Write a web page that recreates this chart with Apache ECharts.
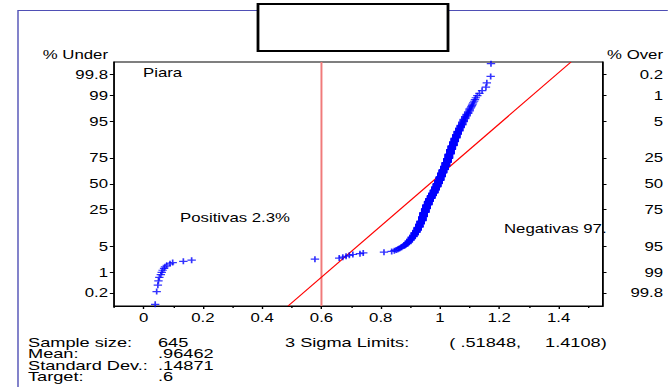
<!DOCTYPE html>
<html><head><meta charset="utf-8">
<script src="https://cdn.jsdelivr.net/npm/echarts/dist/echarts.min.js"></script>
<style>
html,body{margin:0;padding:0;background:#fff;}
#wrap{width:668px;height:387px;overflow:hidden;background:#fff;position:relative;}
#chart{position:absolute;left:0;top:0;height:387px;transform:scaleX(1.4);transform-origin:0 0;}
</style>
</head><body>
<div id="wrap"><div id="chart"></div></div>
<script>
// ---------------- data ----------------
const sampleSize = 645;
const meanValue = 0.96462;
const stdDev = 0.14871;
const targetValue = 0.6;
const sigmaLimits = [0.51848, 1.4108];

// individual low-end observations (ranks 1..29)
const lowTail = [0.039, 0.044, 0.048, 0.050, 0.053, 0.058, 0.061, 0.064, 0.069, 0.072,
  0.078, 0.089, 0.098, 0.134, 0.162, 0.578, 0.660, 0.672, 0.683, 0.694,
  0.706, 0.730, 0.741, 0.811, 0.837, 0.846, 0.852, 0.857, 0.861];
// dense central band: value and how many observations read at that value
const bandValues = [0.865, 0.870, 0.875, 0.880, 0.885, 0.890, 0.895, 0.900, 0.905, 0.910,
  0.915, 0.920, 0.925, 0.930, 0.935, 0.940, 0.945, 0.950, 0.955, 0.960,
  0.965, 0.970, 0.975, 0.980, 0.985, 0.990, 0.995, 1.000, 1.005, 1.010,
  1.015, 1.020, 1.025, 1.030, 1.035, 1.040, 1.045, 1.050, 1.055, 1.060,
  1.065, 1.070, 1.075, 1.080, 1.085, 1.090, 1.095, 1.100];
const bandCounts = [1, 2, 1, 2, 2, 3, 4, 4, 5, 5,
  7, 7, 10, 12, 13, 18, 21, 20, 22, 21,
  18, 18, 17, 20, 21, 22, 21, 25, 25, 21,
  22, 22, 22, 23, 22, 16, 15, 13, 11, 9,
  8, 6, 6, 5, 4, 3, 3, 3];
// individual high-end observations (ranks 631..645)
const highTail = [1.104, 1.106, 1.108, 1.110, 1.112, 1.115, 1.118, 1.121, 1.126, 1.133,
  1.142, 1.155, 1.158, 1.171, 1.172];

const pctUnderTicks = [0.2, 1, 5, 25, 50, 75, 95, 99, 99.8];
const pctUnderLabels = ['0.2', '1', '5', '25', '50', '75', '95', '99', '99.8'];
const pctOverLabels = ['99.8', '99', '95', '75', '50', '25', '5', '1', '0.2'];
const xTickValues = [0, 0.2, 0.4, 0.6, 0.8, 1, 1.2, 1.4];
const xTickLabels = ['0', '0.2', '0.4', '0.6', '0.8', '1', '1.2', '1.4'];
const xMinorTicks = [-0.1, 0.1, 0.3, 0.5, 0.7, 0.9, 1.1, 1.3, 1.5];

const statLabels = ['Sample size:', 'Mean:', 'Standard Dev.:', 'Target:'];
const statValues = ['645', '.96462', '.14871', '.6'];

// ---------------- helpers ----------------
function invNorm(p){
  const a=[-3.969683028665376e+01,2.209460984245205e+02,-2.759285104469687e+02,1.383577518672690e+02,-3.066479806614716e+01,2.506628277459239e+00];
  const b=[-5.447609879822406e+01,1.615858368580409e+02,-1.556989798598866e+02,6.680131188771972e+01,-1.328068155288572e+01];
  const c=[-7.784894002430293e-03,-3.223964580411365e-01,-2.400758277161838e+00,-2.549732539343734e+00,4.374664141464968e+00,2.938163982698783e+00];
  const d=[7.784695709041462e-03,3.224671290700398e-01,2.445134137142996e+00,3.754408661907416e+00];
  const pl=0.02425, ph=1-pl; let q,r;
  if(p<pl){q=Math.sqrt(-2*Math.log(p));return (((((c[0]*q+c[1])*q+c[2])*q+c[3])*q+c[4])*q+c[5])/((((d[0]*q+d[1])*q+d[2])*q+d[3])*q+1);}
  if(p<=ph){q=p-0.5;r=q*q;return (((((a[0]*r+a[1])*r+a[2])*r+a[3])*r+a[4])*r+a[5])*q/(((((b[0]*r+b[1])*r+b[2])*r+b[3])*r+b[4])*r+1);}
  q=Math.sqrt(-2*Math.log(1-p));return -(((((c[0]*q+c[1])*q+c[2])*q+c[3])*q+c[4])*q+c[5])/((((d[0]*q+d[1])*q+d[2])*q+d[3])*q+1);
}

// sorted sample and normal plotting positions
const sorted = lowTail.slice();
bandValues.forEach((v, i) => { for (let k = 0; k < bandCounts[i]; k++) sorted.push(v); });
highTail.forEach(v => sorted.push(v));
const n = sorted.length;
const points = sorted.map((v, i) => [v, invNorm((i + 0.5) / n)]);

const zTicks = pctUnderTicks.map(p => invNorm(p / 100));
function zLabel(v, labels){
  const i = zTicks.findIndex(z => Math.abs(z - v) < 1e-6);
  return i < 0 ? '' : labels[i];
}

// ---------------- layout (reference px, stretched 1.4x horizontally) ----------------
const S = 1.4;
const W = 668 / S, H = 387;
const Y_MIN = -3.21, Y_MAX = 3.21;
const FONT = "'Liberation Sans', Arial, sans-serif";

const fitLine = [[meanValue + stdDev * Y_MIN, Y_MIN], [meanValue + stdDev * Y_MAX, Y_MAX]];
const targetLine = [[targetValue, Y_MIN], [targetValue, Y_MAX]];

function txt(text, xr, y, size, align){
  return {type:'text', x: xr / S, y: y, z: 10,
    style:{text: text, fontSize: size, fontFamily: FONT, fill:'#000', align: align || 'left', verticalAlign:'middle'}};
}

const statRowsY = [342, 353.5, 365, 376.4];
const graphics = [
  {type:'rect', z: 0, shape:{x: 18 / S, y: 10.5, width: 1000, height: 1000},
   style:{fill:'none', stroke:'#4f4fb5', lineWidth:1}},
  {type:'rect', z: 5, shape:{x: 258 / S, y: 4, width: (448 - 258) / S, height: 47},
   style:{fill:'#fff', stroke:'#000', lineWidth:2}},
  txt('% Under', 108, 55, 12, 'right'),
  txt('% Over', 663, 55, 12, 'right'),
  txt('Piara', 143, 73, 12),
  txt('Positivas 2.3%', 180, 217.7, 12),
  txt('Negativas 97.', 504, 228.7, 12),
  txt('3 Sigma Limits:', 285, statRowsY[0], 13),
  txt('( .' + String(sigmaLimits[0]).split('.')[1] + ',', 449.3, statRowsY[0], 13),
  txt(String(sigmaLimits[1]) + ')', 606.7, statRowsY[0], 13, 'right')
];
statLabels.forEach((l, i) => {
  graphics.push(txt(l, 28, statRowsY[i], 13));
  graphics.push(txt(statValues[i], 158, statRowsY[i], 13));
});

const chart = echarts.init(document.getElementById('chart'), null, {renderer:'svg', width: W, height: H});
document.getElementById('chart').style.width = W + 'px';

const axisLineStyle = {show:true, onZero:false, lineStyle:{color:'#000', width:1}};
chart.setOption({
  animation:false,
  backgroundColor:'#fff',
  grid:{left: 114 / S, top: 62, width: 489 / S, height: 244, show:true, borderColor:'#000', borderWidth:1, backgroundColor:'transparent', containLabel:false},
  xAxis:[
    {type:'value', min:-0.1, max:1.55, position:'bottom', axisLine: axisLineStyle,
     splitLine:{show:false},
     axisTick:{show:true, customValues: xTickValues, length:3, lineStyle:{color:'#000'}},
     axisLabel:{show:true, customValues: xTickValues, margin:6, fontSize:12, fontFamily:FONT, color:'#000',
       formatter: v => { const i = xTickValues.findIndex(t => Math.abs(t - v) < 1e-9); return i < 0 ? '' : xTickLabels[i]; }}},
    {type:'value', min:-0.1, max:1.55, position:'bottom', axisLine:{show:false, onZero:false},
     splitLine:{show:false},
     axisTick:{show:true, customValues: xMinorTicks, length:2, lineStyle:{color:'#000'}},
     axisLabel:{show:false}}
  ],
  yAxis:[
    {type:'value', min:Y_MIN, max:Y_MAX, position:'left', axisLine: axisLineStyle,
     splitLine:{show:false},
     axisTick:{show:true, customValues: zTicks, length:3, lineStyle:{color:'#000'}},
     axisLabel:{show:true, customValues: zTicks, margin:4.3, fontSize:12, fontFamily:FONT, color:'#000',
       formatter: v => zLabel(v, pctUnderLabels)}},
    {type:'value', min:Y_MIN, max:Y_MAX, position:'right', axisLine: axisLineStyle,
     splitLine:{show:false},
     axisTick:{show:true, customValues: zTicks, length:2.5, lineStyle:{color:'#000'}},
     axisLabel:{show:true, customValues: zTicks, margin:42.9, align:'right', fontSize:12, fontFamily:FONT, color:'#000',
       formatter: v => zLabel(v, pctOverLabels)}}
  ],
  series:[
    {type:'line', data: targetLine, xAxisIndex:0, yAxisIndex:0, symbol:'none', silent:true,
     lineStyle:{color:'#f07a7a', width:1.4}, z:1},
    {type:'line', data: fitLine, xAxisIndex:0, yAxisIndex:0, symbol:'none', silent:true,
     lineStyle:{color:'#ff0000', width:1}, z:2},
    {type:'scatter', data: points, xAxisIndex:0, yAxisIndex:0, silent:true,
     symbol:'path://M4,0h2v4h4v2h-4v4h-2v-4h-4v-2h4z', symbolSize:6,
     itemStyle:{color:'#0000ff'}, z:3}
  ],
  graphic: graphics
});
</script>
</body></html>
